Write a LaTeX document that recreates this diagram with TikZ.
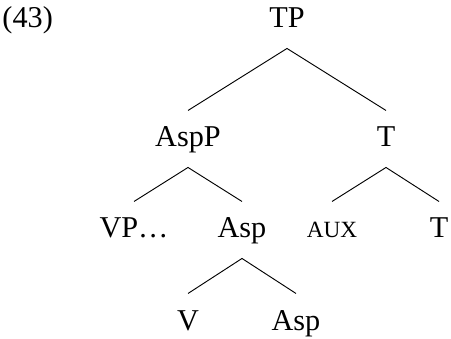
\documentclass[tikz,border=0pt]{standalone}
\usepackage{fontspec}
\setmainfont{Liberation Serif}
\usepackage{tikz}

\newcommand{\smallcap}[1]{{\fontsize{10}{12}\selectfont #1}}

\begin{document}
\begin{tikzpicture}[x=0.43pt,y=-0.43pt,
 cat/.style={anchor=base,inner sep=0pt,text height=15.5pt,text depth=8.6pt,
  font=\fontsize{13}{15}\selectfont}]
 \useasboundingbox (0,0) rectangle (451,339);
 \node[anchor=base west,inner sep=0pt,font=\fontsize{13}{15}\selectfont] (ex) at (2,28) {(43)};

 \node[cat] (tp) at (287,28) {TP};
 \node[cat] (aspp) at (188,147) {AspP};
 \node[cat] (t) at (386,147) {T};
 \node[cat] (vp) at (134,238) {VP\ldots};
 \node[cat] (asp) at (242,238) {Asp};
 \node[cat] (aux) at (332,238) {\smallcap{AUX}};
 \node[cat] (tt) at (439,238) {T};
 \node[cat] (v) at (188,330) {V};
 \node[cat] (aspb) at (296,330) {Asp};

 \draw (aspp.north) -- (tp.south) -- (t.north);
 \draw (vp.north) -- (aspp.south) -- (asp.north);
 \draw (aux.north) -- (t.south) -- (tt.north);
 \draw (v.north) -- (asp.south) -- (aspb.north);
\end{tikzpicture}
\end{document}
